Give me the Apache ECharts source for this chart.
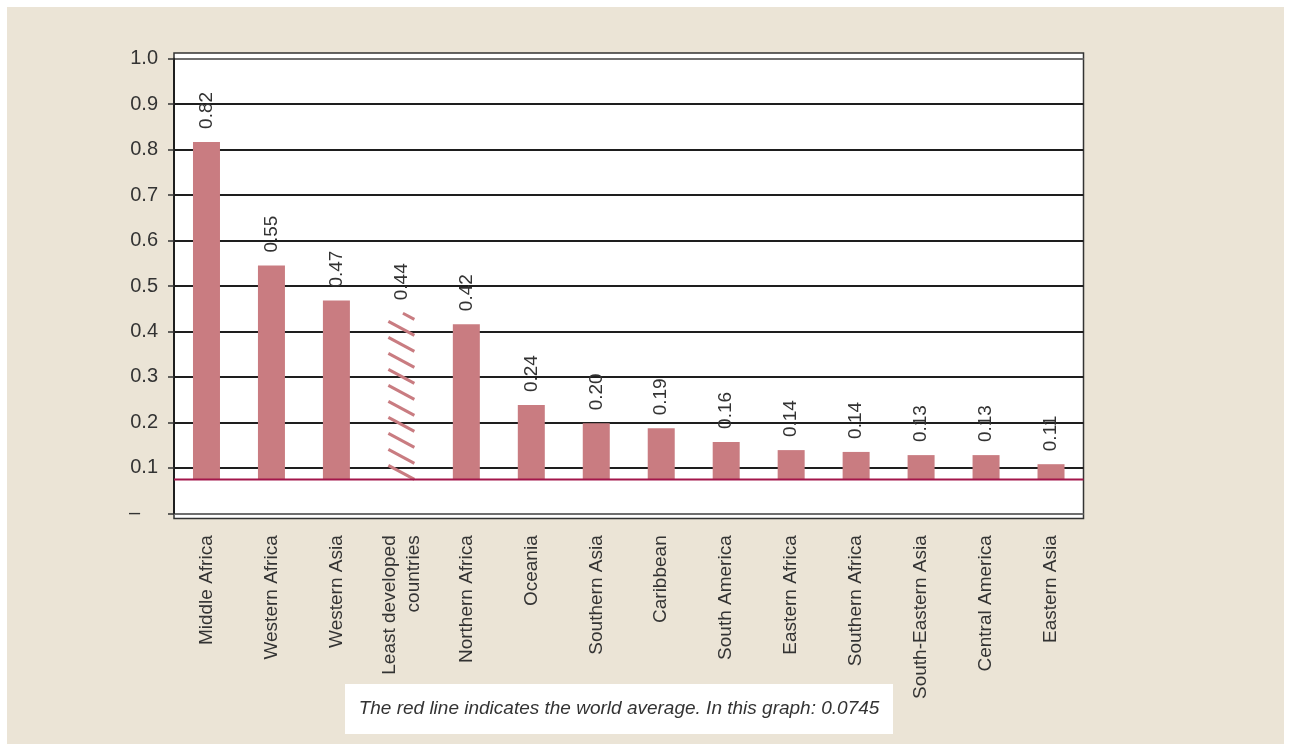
<!DOCTYPE html>
<html>
<head>
	<meta charset="utf-8">
	<title>World average chart</title>
	<style>
		html, body { margin: 0; padding: 0; background: #ffffff; }
		#chart { width: 1291px; height: 751px; }
	</style>
</head>
<body>
	<div id="chart"></div>
<script src="https://cdn.jsdelivr.net/npm/echarts@6/dist/echarts.min.js"></script>
<script>
	// data
	var regions = ['Middle Africa', 'Western Africa', 'Western Asia', 'Least developed\ncountries', 'Northern Africa',
		'Oceania', 'Southern Asia', 'Caribbean', 'South America', 'Eastern Africa', 'Southern Africa',
		'South-Eastern Asia', 'Central America', 'Eastern Asia'];
	var values = [0.817, 0.545, 0.468, 0.44, 0.416, 0.238, 0.198, 0.187, 0.157, 0.139, 0.135, 0.128, 0.128, 0.108];
	var valueLabels = ['0.82', '0.55', '0.47', '0.44', '0.42', '0.24', '0.20', '0.19', '0.16', '0.14', '0.14', '0.13', '0.13', '0.11'];
	var hatchedIndex = 3; // least developed countries
	var worldAvg = 0.0745;
	var note = 'The red line indicates the world average. In this graph: 0.0745';

	var FONT = '"Liberation Sans", Arial, sans-serif';
	var barColor = '#c97c81';
	var avgColor = '#a3164b';
	var textColor = '#333333';

	var chart = echarts.init(document.getElementById('chart'));

	//底部透明段 + 可见段，柱子从世界平均线开始
	var baseData = regions.map(function () { return worldAvg; });
	var topData = values.map(function (v, i) {
		var item = { value: v - worldAvg };
		if (i === hatchedIndex) item.itemStyle = { color: 'transparent' };
		return item;
	});
	var hatchData = [[hatchedIndex, values[hatchedIndex]]];

	var gridColors = [];
	for (var k = 0; k <= 10; k++) {
		gridColors.push(k === 0 || k === 10 ? '#6f6f6f' : '#1e1e1e');
	}

	function renderHatch(params, api) {
		var idx = api.value(0);
		var top = api.coord([idx, api.value(1)]);
		var bot = api.coord([idx, worldAvg]);
		var w = 26, drop = 14, step = 16;
		var x0 = top[0] - w / 2, x1 = x0 + w;
		var children = [];
		for (var yEnd = bot[1]; yEnd > top[1]; yEnd -= step) {
			var yStart = yEnd - drop;
			var xs = x0;
			if (yStart < top[1]) {
				xs = x0 + (top[1] - yStart) / drop * w;
				yStart = top[1];
			}
			children.push({
				type: 'line',
				shape: { x1: xs, y1: yStart, x2: x1, y2: yEnd },
				style: { stroke: barColor, lineWidth: 3 }
			});
		}
		return { type: 'group', children: children };
	}

	// 世界平均线，横跨整个绘图区
	function renderAvgLine(params, api) {
		var cs = params.coordSys;
		var y = api.coord([0, api.value(0)])[1];
		return {
			type: 'line',
			shape: { x1: cs.x, y1: y, x2: cs.x + cs.width, y2: y },
			style: { stroke: avgColor, lineWidth: 2 }
		};
	}

	var option = {
		backgroundColor: '#ffffff',
		animation: false,
		textStyle: { fontFamily: FONT },
		graphic: [
			{ type: 'rect', z: -20, shape: { x: 7, y: 7, width: 1277, height: 737 }, style: { fill: '#ebe4d6' } },
			{ type: 'rect', z: -10, shape: { x: 174, y: 53, width: 909.5, height: 465.5 },
				style: { fill: '#ffffff', stroke: '#333333', lineWidth: 1.5 } },
			{ type: 'rect', z: -10, shape: { x: 345, y: 684, width: 548, height: 50 }, style: { fill: '#ffffff' } },
			{ type: 'text', z: 10, x: 619, y: 709,
				style: { text: note, font: 'italic 19px ' + FONT, fill: textColor, align: 'center', verticalAlign: 'middle' } }
		],
		grid: { left: 174, right: 207.5, top: 58.7, bottom: 237.7, containLabel: false },
		xAxis: {
			type: 'category',
			data: regions,
			axisLine: { show: false },
			axisTick: { show: false },
			axisLabel: {
				rotate: 90,
				margin: 22,
				interval: 0,
				fontSize: 19,
				lineHeight: 24,
				color: textColor,
				fontFamily: FONT
			}
		},
		yAxis: {
			type: 'value',
			min: 0,
			max: 1,
			interval: 0.1,
			axisLine: { show: true, lineStyle: { color: '#1e1e1e', width: 2 } },
			axisTick: { show: true, length: 6, lineStyle: { color: '#333333', width: 1.5 } },
			axisLabel: {
				margin: 16,
				fontSize: 20,
				color: textColor,
				fontFamily: FONT,
				formatter: function (v) {
					if (v === 0) return '{dash|–}';
					return v.toFixed(1);
				},
				rich: { dash: { fontSize: 20, color: textColor, fontFamily: FONT, padding: [0, 18, 0, 0] } }
			},
			splitLine: { show: true, lineStyle: { color: gridColors, width: 2 } }
		},
		series: [
			{
				name: 'base',
				type: 'bar',
				stack: 'v',
				barWidth: 27,
				silent: true,
				itemStyle: { color: 'transparent' },
				data: baseData
			},
			{
				name: 'value',
				type: 'bar',
				stack: 'v',
				barWidth: 27,
				itemStyle: { color: barColor },
				label: {
					show: true,
					position: 'top',
					rotate: 90,
					align: 'left',
					verticalAlign: 'middle',
					distance: 13,
					fontSize: 19,
					color: textColor,
					fontFamily: FONT,
					formatter: function (p) { return valueLabels[p.dataIndex]; }
				},
				data: topData
			},
			{
				name: 'hatch',
				type: 'custom',
				silent: true,
				renderItem: renderHatch,
				data: hatchData,
				z: 3
			},
			{
				name: 'world average',
				type: 'custom',
				silent: true,
				renderItem: renderAvgLine,
				data: [[worldAvg]],
				z: 4
			}
		]
	};
	chart.setOption(option);
</script>
</body>
</html>
